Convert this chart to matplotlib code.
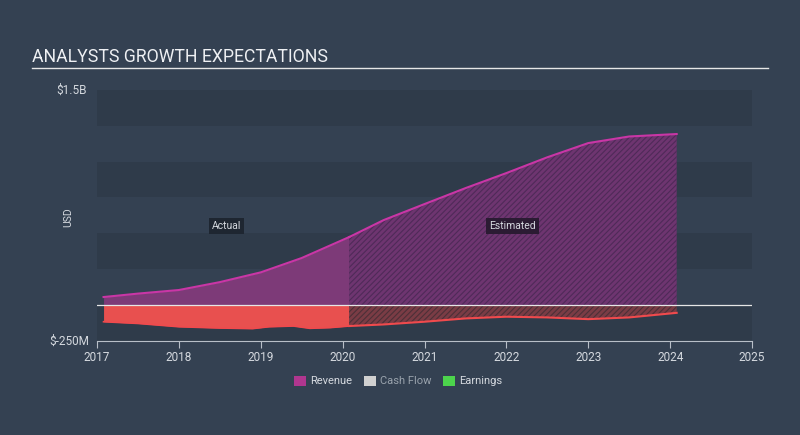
import numpy as np
import matplotlib
matplotlib.use("Agg")
import matplotlib.pyplot as plt

plt.rcParams['font.family'] = ['Roboto', 'DejaVu Sans']
plt.rcParams['hatch.linewidth'] = 0.8

# revenue (USD millions)
rev_years = [2017.08, 2017.5, 2018.0, 2018.5, 2019.0, 2019.5, 2020.08]
rev_vals = [56, 80, 105, 160, 228, 328, 474]
rev_est_years = [2020.08, 2020.5, 2021.0, 2021.5, 2022.0, 2022.5, 2023.0, 2023.5, 2024.08]
rev_est_vals = [474, 592, 704, 815, 920, 1030, 1129, 1175, 1192]

# earnings (USD millions)
earn_years = [2017.08, 2017.5, 2018.0, 2018.5, 2018.9, 2019.1, 2019.4, 2019.6, 2019.85, 2020.08]
earn_vals = [-116, -128, -151, -160, -164, -151, -146, -162, -157, -146]
earn_est_years = [2020.08, 2020.5, 2021.0, 2021.5, 2022.0, 2022.5, 2023.0, 2023.5, 2024.08]
earn_est_vals = [-146, -135, -116, -93, -81, -86, -98, -86, -54]

year_ticks = list(range(2017, 2026))
legend_labels = ['Revenue', 'Cash Flow', 'Earnings']

bg = '#344152'
band = '#2f3b4a'
txt = '#d5d9df'

fig = plt.figure(figsize=(8, 4.352), dpi=100, facecolor=bg)
ax = fig.add_axes([97/800, 1-341/435, (752-97)/800, (341-90)/435])
ax.set_facecolor(bg)
ax.set_xlim(2017, 2025)
ax.set_ylim(-250, 1500)

# alternating bands
for lo in [1250, 750, 250, -250]:
    ax.axhspan(lo, lo + 250, color=band, lw=0, zorder=0)

# revenue actual
ax.fill_between(rev_years, 0, rev_vals, color='#7d3a78', lw=0, zorder=2)
ax.plot(rev_years, rev_vals, color='#c936a6', lw=1.5, zorder=4)
# revenue estimate (hatched)
ax.fill_between(rev_est_years, 0, rev_est_vals, facecolor='#6e3570', edgecolor='#4f2a58',
                hatch='//////', lw=0, zorder=2)
ax.plot(rev_est_years, rev_est_vals, color='#c936a6', lw=1.5, zorder=4)

# earnings actual
ax.fill_between(earn_years, 0, earn_vals, color='#e8504f', lw=0, zorder=2)
ax.plot(earn_years, earn_vals, color='#f04a4d', lw=1.2, zorder=4)
ax.fill_between(earn_est_years, 0, earn_est_vals, facecolor='#7a3c45', edgecolor='#4c3038',
                hatch='//////', lw=0, zorder=2)
ax.plot(earn_est_years, earn_est_vals, color='#f04a4d', lw=1.5, zorder=4)

ax.axhline(0, color='#e6e6e6', lw=0.9, zorder=5)

# axes styling
for s in ['top', 'right', 'left']:
    ax.spines[s].set_visible(False)
ax.spines['bottom'].set_color('#b8bfc8')
ax.set_xticks(year_ticks)
ax.set_xticklabels([str(y) for y in year_ticks])
ax.tick_params(axis='x', colors='#b8bfc8', labelcolor=txt, labelsize=8.5, length=5, pad=2)
ax.set_yticks([])
ax.text(-0.015, 1.0, '$1.5B', transform=ax.transAxes, ha='right', va='center', color=txt, fontsize=8.5)
ax.text(-0.012, 0.0, '$-250M', transform=ax.transAxes, ha='right', va='center', color=txt, fontsize=8.5)
fig.text(68/800, 1-217/435, 'USD', rotation=90, ha='center', va='center', color=txt, fontsize=7.5)

ax.text(2018.58, 550, 'Actual', ha='center', va='center', color=txt, fontsize=7.5, zorder=6,
        bbox=dict(boxstyle='square,pad=0.3', fc='#1e2631', ec='none'))
ax.text(2022.08, 550, 'Estimated', ha='center', va='center', color=txt, fontsize=7.5, zorder=6,
        bbox=dict(boxstyle='square,pad=0.3', fc='#2b1b33', ec='none'))

# title
fig.text(32/800, 1-57/435, 'ANALYSTS GROWTH EXPECTATIONS', color='#eef0f3', fontsize=12.7,
         ha='left', va='center')
fig.add_artist(plt.Line2D([32/800, 768/800], [1-68/435, 1-68/435], color='#e6e6e6', lw=1))

# legend
swatch = ['#b0368f', '#d0d0d0', '#4cd44c']
label_col = [txt, '#9aa3ad', txt]
xs = [294, 364, 443]
for x, c, lab, lc in zip(xs, swatch, legend_labels, label_col):
    fig.patches.append(plt.Rectangle((x/800, 1-386/435), 12/800, 10/435, transform=fig.transFigure,
                                     color=c, lw=0))
    fig.text((x+16)/800, 1-381/435, lab, color=lc, fontsize=8, ha='left', va='center')

fig.savefig('out.png', dpi=100, facecolor=bg)
